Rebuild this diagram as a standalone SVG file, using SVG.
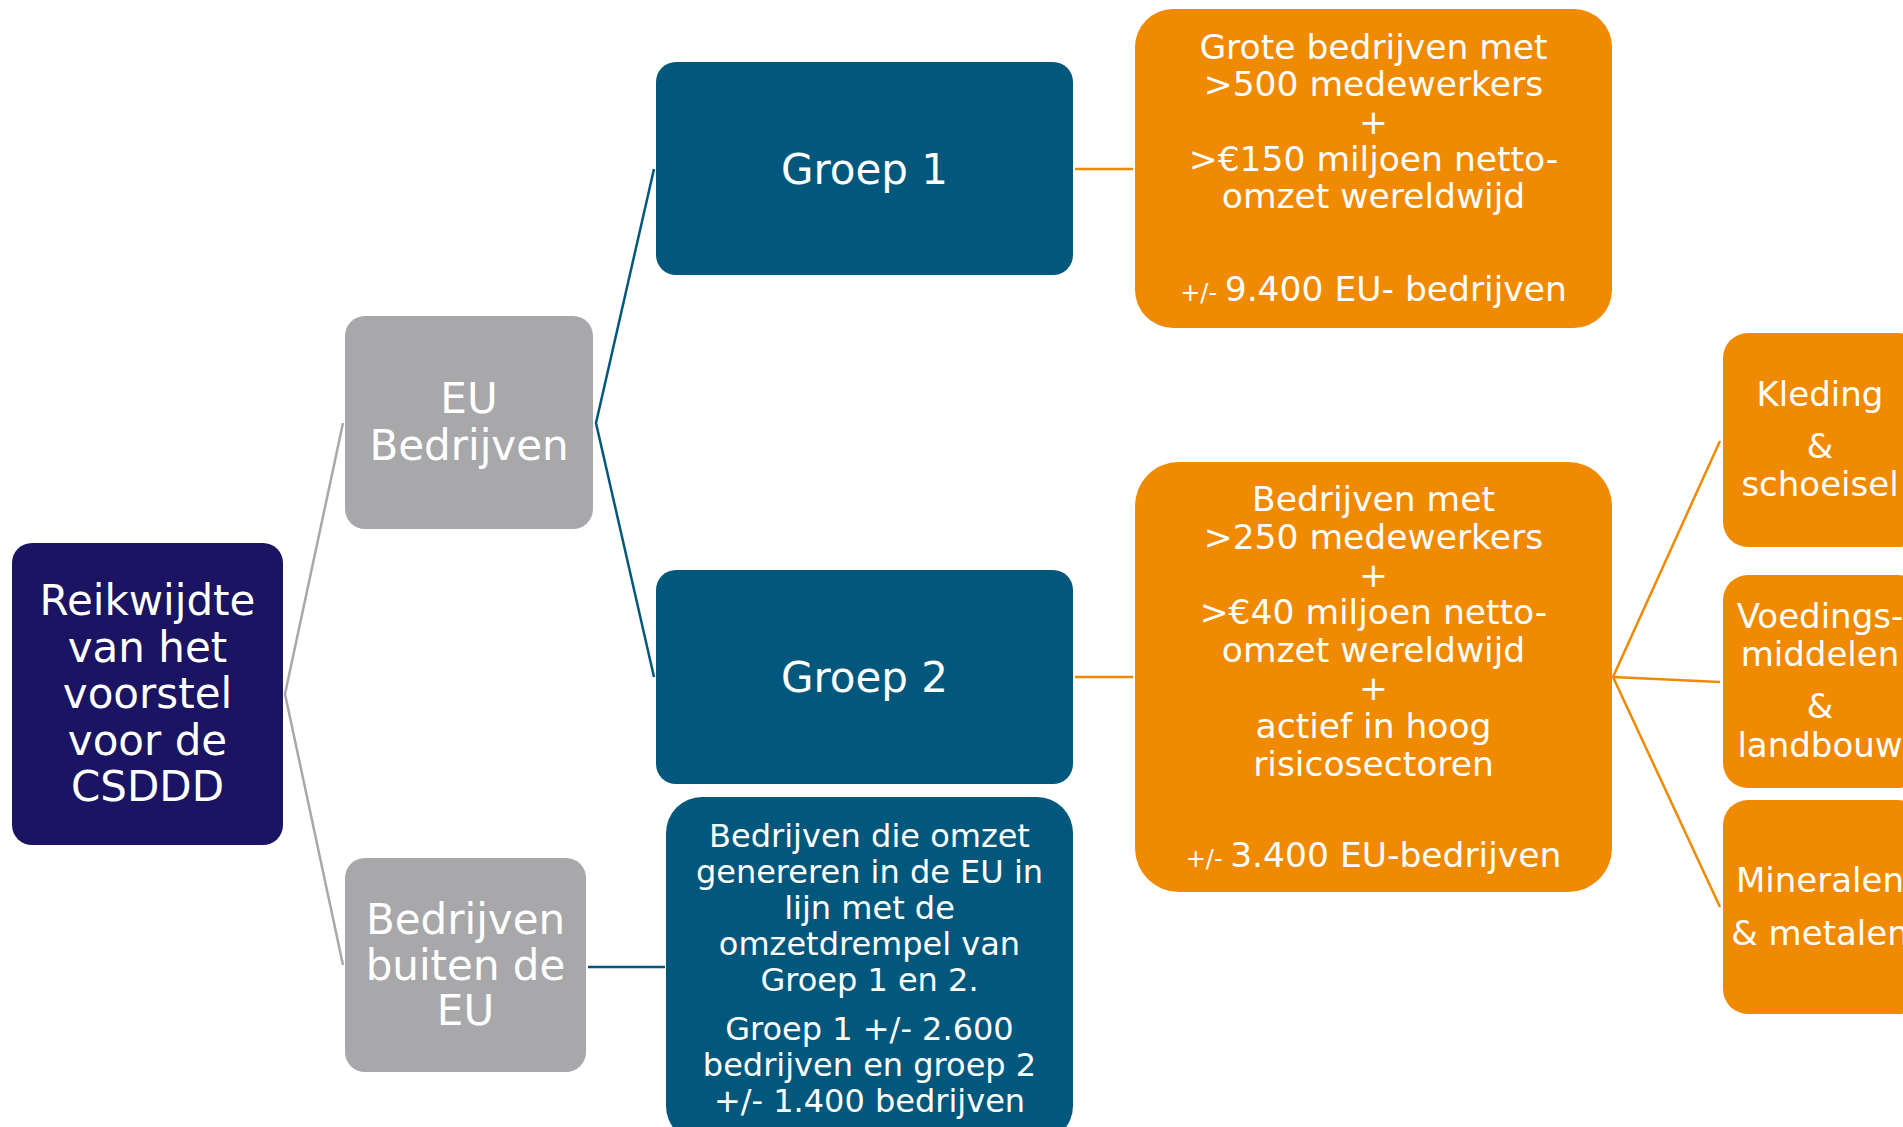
<svg xmlns="http://www.w3.org/2000/svg" width="1903" height="1127" viewBox="0 0 1903 1127">
<style>
text{font-family:"DejaVu Sans","Verdana",sans-serif;fill:#fff;text-anchor:middle}
.navy{fill:#1a1462}
.gray{fill:#a8a8aa}
.teal{fill:#02587c}
.orange{fill:#ef8a02}
.big{font-size:42px}
.mid{font-size:34.5px}
.side{font-size:34px}
.sm{font-size:32px}
.tiny{font-size:24px}
.cg{stroke:#a8a8aa;stroke-width:2.5;fill:none}
.ct{stroke:#02587c;stroke-width:2.5;fill:none}
.co{stroke:#ef8a02;stroke-width:2.5;fill:none}
</style>
<rect width="1903" height="1127" fill="#fff"/>
<g id="connectors">
<polyline class="cg" points="343,423 285,694 343,965"/>
<polyline class="ct" points="654,169 596,423 654,677"/>
<line class="co" x1="1075" y1="169" x2="1133" y2="169"/>
<line class="co" x1="1075" y1="677" x2="1133" y2="677"/>
<line class="ct" x1="588" y1="967" x2="665" y2="967"/>
<polyline class="co" points="1720,441 1613,677 1720,907"/>
<line class="co" x1="1613" y1="677" x2="1720" y2="682"/>
</g>
<g id="root">
<rect class="navy" x="12" y="543" width="271" height="302" rx="20"/>
<text class="big"><tspan x="147.5" y="615">Reikwijdte</tspan><tspan x="147.5" y="662">van het</tspan><tspan x="147.5" y="708">voorstel</tspan><tspan x="147.5" y="755">voor de</tspan><tspan x="147.5" y="801">CSDDD</tspan></text>
</g>
<g id="eu-bedrijven">
<rect class="gray" x="345" y="316" width="248" height="213" rx="20"/>
<text class="big"><tspan x="469" y="413">EU</tspan><tspan x="469" y="460">Bedrijven</tspan></text>
</g>
<g id="buiten-eu">
<rect class="gray" x="345" y="858" width="241" height="214" rx="20"/>
<text class="big"><tspan x="465.5" y="934">Bedrijven</tspan><tspan x="465.5" y="980">buiten de</tspan><tspan x="465.5" y="1025">EU</tspan></text>
</g>
<g id="groep1">
<rect class="teal" x="656" y="62" width="417" height="213" rx="20"/>
<text class="big" x="864.5" y="184">Groep 1</text>
</g>
<g id="groep2">
<rect class="teal" x="656" y="570" width="417" height="214" rx="20"/>
<text class="big" x="864.5" y="692">Groep 2</text>
</g>
<g id="buiten-detail">
<rect class="teal" x="666" y="797" width="407" height="345" rx="36"/>
<text class="sm"><tspan x="869.5" y="847">Bedrijven die omzet</tspan><tspan x="869.5" y="883">genereren in de EU in</tspan><tspan x="869.5" y="919">lijn met de</tspan><tspan x="869.5" y="955">omzetdrempel van</tspan><tspan x="869.5" y="991">Groep 1 en 2.</tspan><tspan x="869.5" y="1040">Groep 1 +/- 2.600</tspan><tspan x="869.5" y="1076">bedrijven en groep 2</tspan><tspan x="869.5" y="1112">+/- 1.400 bedrijven</tspan></text>
</g>
<g id="groep1-detail">
<rect class="orange" x="1135" y="9" width="477" height="319" rx="38"/>
<text class="mid"><tspan x="1373.5" y="59">Grote bedrijven met</tspan><tspan x="1373.5" y="96">&gt;500 medewerkers</tspan><tspan x="1373.5" y="133.5">+</tspan><tspan x="1373.5" y="171">&gt;€150 miljoen netto-</tspan><tspan x="1373.5" y="208">omzet wereldwijd</tspan></text>
<text x="1373.5" y="301"><tspan class="tiny">+/- </tspan><tspan class="mid">9.400 EU- bedrijven</tspan></text>
</g>
<g id="groep2-detail">
<rect class="orange" x="1135" y="462" width="477" height="430" rx="44"/>
<text class="mid"><tspan x="1373.5" y="511">Bedrijven met</tspan><tspan x="1373.5" y="549">&gt;250 medewerkers</tspan><tspan x="1373.5" y="587">+</tspan><tspan x="1373.5" y="624">&gt;€40 miljoen netto-</tspan><tspan x="1373.5" y="662">omzet wereldwijd</tspan><tspan x="1373.5" y="700">+</tspan><tspan x="1373.5" y="738">actief in hoog</tspan><tspan x="1373.5" y="776">risicosectoren</tspan></text>
<text x="1373.5" y="867"><tspan class="tiny">+/- </tspan><tspan class="mid">3.400 EU-bedrijven</tspan></text>
</g>
<g id="kleding">
<rect class="orange" x="1723" y="333" width="200" height="214" rx="25"/>
<text class="side"><tspan x="1820" y="406">Kleding</tspan><tspan x="1820" y="458">&amp;</tspan><tspan x="1820" y="496">schoeisel</tspan></text>
</g>
<g id="voeding">
<rect class="orange" x="1723" y="575" width="200" height="213" rx="25"/>
<text class="side"><tspan x="1820" y="628">Voedings-</tspan><tspan x="1820" y="666">middelen</tspan><tspan x="1820" y="718">&amp;</tspan><tspan x="1820" y="757">landbouw</tspan></text>
</g>
<g id="mineralen">
<rect class="orange" x="1723" y="800" width="200" height="214" rx="25"/>
<text class="side"><tspan x="1820" y="892">Mineralen</tspan><tspan x="1820" y="945">&amp; metalen</tspan></text>
</g>
</svg>
